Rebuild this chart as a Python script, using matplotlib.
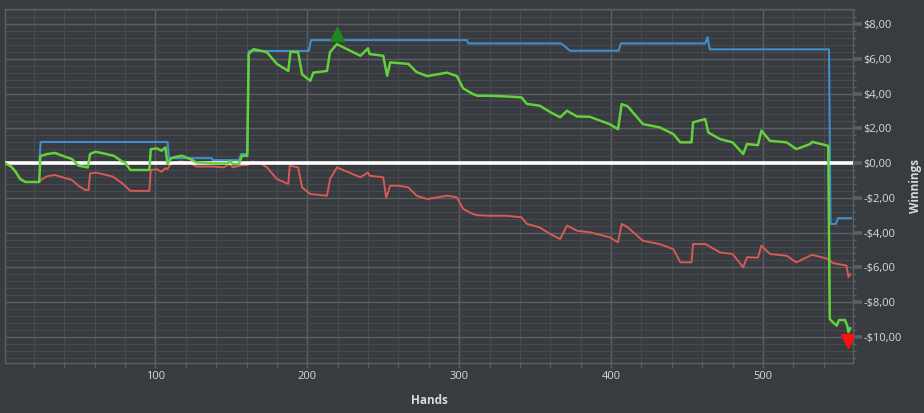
import matplotlib
matplotlib.use("Agg")
import matplotlib.pyplot as plt
import matplotlib.transforms as mtransforms
from matplotlib.ticker import MultipleLocator, FuncFormatter
import numpy as np

# ---- data (hands, winnings in $) ----
blue_hands = [1, 23.5, 24.5, 108, 109, 137, 138, 155, 156.5, 160.5, 161.5, 201, 202.5, 305, 306,
              367, 369, 373, 405, 406.5, 462, 463.5, 465, 543.5, 544, 544.5, 548, 549.5, 558]
blue_values = [0, 0, 1.21, 1.21, 0.28, 0.28, 0.17, 0.17, 0.52, 0.52, 6.45, 6.45, 7.07, 7.07, 6.88,
               6.88, 6.75, 6.46, 6.46, 6.88, 6.88, 7.24, 6.54, 6.54, 1.5, -3.5, -3.5, -3.17, -3.17]

red_hands = [1, 5, 8, 11, 14.5, 23.5, 25, 29, 34, 40, 45, 50, 54, 56, 57, 61, 66, 72, 78, 83.5, 96,
             97, 101, 104, 106.6, 108, 110, 117, 123, 127, 138, 145, 149, 151, 157, 160.5, 164, 170,
             173.5, 180, 187.5, 188.5, 194, 196.6, 202, 213, 215, 219.5, 235, 240, 241, 250, 252,
             254.6, 260, 266.6, 272, 279, 292, 298.5, 302.6, 309, 312, 320, 331, 341, 344.6, 353,
             360, 366.5, 371, 377.6, 386, 399, 404.6, 407, 411, 421, 432, 441, 445.6, 453, 454, 462,
             464, 471.7, 480, 487, 489.5, 496.7, 499, 504.6, 515.6, 522, 531, 532.5, 543, 546, 555,
             556.3, 557.5]
red_values = [0, -0.2, -0.5, -0.92, -1.09, -1.09, -0.95, -0.75, -0.69, -0.85, -0.97, -1.35, -1.55,
              -1.55, -0.6, -0.55, -0.65, -0.78, -1.15, -1.6, -1.6, -0.4, -0.36, -0.5, -0.3, -0.35,
              -0.05, 0.1, 0.0, -0.2, -0.2, -0.25, -0.05, -0.25, -0.12, -0.12, 0.08, -0.05, -0.25,
              -0.92, -1.2, -0.15, -0.25, -1.4, -1.78, -1.88, -0.92, -0.25, -0.82, -0.54, -0.73,
              -0.82, -2.0, -1.3, -1.3, -1.4, -1.88, -2.07, -1.88, -1.97, -2.64, -2.93, -3.0, -3.03,
              -3.03, -3.12, -3.5, -3.7, -4.08, -4.37, -3.6, -3.89, -3.98, -4.27, -4.56, -3.5, -3.7,
              -4.47, -4.66, -4.95, -5.71, -5.71, -4.66, -4.66, -4.75, -5.14, -5.23, -6.0, -5.42,
              -5.44, -4.75, -5.23, -5.33, -5.71, -5.33, -5.28, -5.52, -5.75, -5.9, -6.55, -6.38]

green_hands = [1, 5, 8, 11, 14.5, 23.5, 24.3, 28.8, 34, 40, 45, 49.5, 55.5, 57, 60.5, 66, 72.6, 78,
               80, 83.5, 96, 97, 101, 104, 106.6, 108, 110, 112, 117.5, 123, 127, 138, 148, 149, 151,
               155, 157, 160.5, 161.4, 164.7, 173.5, 180, 187.5, 189, 194, 196.6, 202, 204, 213,
               215, 219.5, 235, 240, 241, 250, 252.6, 254.6, 260, 266.6, 272, 279, 292, 298.5,
               302.6, 309, 312, 320, 331, 341, 344.6, 353, 360, 366.5, 371, 377.6, 386, 399, 404.6,
               407, 411, 421, 432, 441, 445.6, 453, 454, 462, 464, 471.7, 480, 487, 489.5, 496.7,
               499, 504.6, 515.6, 522, 531, 532.5, 543, 544, 546, 548.6, 550, 554, 555.5, 556.3,
               557.5]
green_values = [0, -0.2, -0.5, -0.92, -1.09, -1.09, 0.4, 0.52, 0.58, 0.38, 0.23, -0.15, -0.25,
                0.52, 0.65, 0.55, 0.42, 0.1, 0.04, -0.4, -0.4, 0.8, 0.84, 0.71, 0.9, -0.05, 0.25,
                0.33, 0.42, 0.23, 0.04, -0.02, -0.02, 0.13, -0.06, -0.05, 0.42, 0.42, 6.27, 6.55,
                6.37, 5.7, 5.3, 6.4, 6.37, 5.1, 4.73, 5.2, 5.3, 6.38, 6.84, 6.17, 6.6, 6.27, 6.17,
                5.02, 5.79, 5.75, 5.7, 5.23, 5.0, 5.2, 5.0, 4.3, 3.97, 3.87, 3.87, 3.83, 3.78, 3.4,
                3.3, 2.93, 2.63, 3.01, 2.68, 2.66, 2.24, 1.95, 3.39, 3.26, 2.24, 2.05, 1.67, 1.19,
                1.19, 2.34, 2.53, 1.76, 1.38, 1.19, 0.52, 1.09, 1.03, 1.86, 1.28, 1.19, 0.8, 1.09,
                1.22, 0.99, -8.97, -9.15, -9.35, -9.03, -9.03, -9.35, -9.73, -9.5]

x_ticks = [100, 200, 300, 400, 500]
y_ticks = [-10, -8, -6, -4, -2, 0, 2, 4, 6, 8]

# ---- style ----
BG = "#383b3f"
GRID_MAJ = "#5b5e62"
GRID_MIN = "#474a4e"
TXT = "#d9d9d9"
plt.rcParams['font.family'] = ['Open Sans', 'DejaVu Sans']

fig = plt.figure(figsize=(9.24, 4.13), dpi=100, facecolor=BG)
ax = fig.add_axes([5 / 924, 1 - 363 / 413, 848 / 924, 354 / 413])
ax.set_facecolor(BG)

ax.set_xlim(1, 559.3)
ax.set_ylim(-11.5, 8.86)

ax.xaxis.set_minor_locator(MultipleLocator(20))
ax.yaxis.set_minor_locator(MultipleLocator(0.4))
ax.set_xticks(x_ticks)
ax.set_yticks(y_ticks)

def money(v, pos=None):
    s = f"${abs(v):.2f}".replace(".", ",")
    return ("-" + s) if v < -1e-9 else s

ax.yaxis.set_major_formatter(FuncFormatter(money))
ax.yaxis.tick_right()

ax.grid(which="major", color=GRID_MAJ, linewidth=1.0, zorder=0)
ax.grid(which="minor", color=GRID_MIN, linewidth=0.8, zorder=0)
ax.set_axisbelow(True)
for sp in ax.spines.values():
    sp.set_color(GRID_MAJ)
    sp.set_linewidth(1.0)

ax.tick_params(axis="both", which="both", colors=GRID_MAJ, labelcolor=TXT, labelsize=8,
               width=1)
ax.tick_params(axis="x", which="both", length=3.5)
ax.tick_params(axis="x", which="major", pad=2.5)
ax.tick_params(axis="y", which="major", length=6.5, pad=0.8)
ax.tick_params(axis="y", which="minor", length=2.5)

# white tick at zero, continuing the zero line
for t in ax.yaxis.get_major_ticks():
    if abs(t.get_loc()) < 1e-9:
        t.tick2line.set_color("white")
        t.tick2line.set_markeredgewidth(2.6)

fig.text(429 / 924, 1 - 400 / 413, "Hands", color=TXT, fontsize=8.5, fontweight="bold",
         ha="center", va="center")
fig.text(916 / 924, 1 - 186 / 413, "Winnings", color=TXT, fontsize=8.5, fontweight="bold",
         ha="center", va="center", rotation=90)

ax.plot(red_hands, red_values, color="#d65a55", linewidth=1.4, zorder=3)
ax.plot(blue_hands, blue_values, color="#3f8fcc", linewidth=1.5, zorder=3)

# zero line (above red/blue, below green)
ax.axhline(0, color="white", linewidth=2.6, zorder=3.5)

ax.plot(green_hands, green_values, color="#62d13c", linewidth=1.8, zorder=4)

# max / min markers of the net line
gv = np.array(green_values)
gh = np.array(green_hands)
imax, imin = int(gv.argmax()), int(gv.argmin())
up = ax.transData + mtransforms.ScaledTranslation(0, 7 / 72, fig.dpi_scale_trans)
down = ax.transData + mtransforms.ScaledTranslation(0, -6 / 72, fig.dpi_scale_trans)
ax.plot([gh[imax]], [gv[imax]], marker="^", markersize=10, color="#1e8a1e", transform=up,
        zorder=5, linestyle="none")
ax.plot([gh[imin]], [gv[imin]], marker="v", markersize=10, color="#ff1010", transform=down,
        zorder=5, linestyle="none")

fig.savefig("out.png", dpi=100, facecolor=BG)
